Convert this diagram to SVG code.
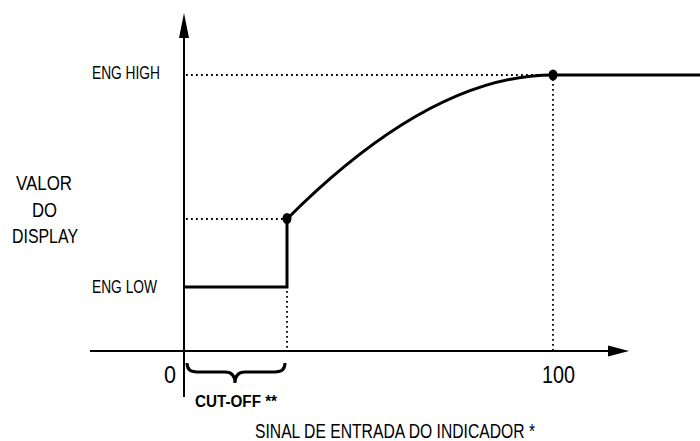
<svg xmlns="http://www.w3.org/2000/svg" width="700" height="441" viewBox="0 0 700 441">
<style>
.t{font-family:"Liberation Sans",Arial,sans-serif;fill:#000}
.axis{stroke:#000;stroke-width:2;fill:none}
.thick{stroke:#000;stroke-width:3;fill:none}
.dot{stroke:#000;stroke-width:1.8;stroke-dasharray:1.8 3.2;fill:none}
</style>
<rect width="700" height="441" fill="#fff"/>
<g id="connectors">
<line class="axis" x1="184" y1="397" x2="184" y2="38"/>
<path d="M179,38 L184,13 L189,38 z" fill="#000"/>
<line class="axis" x1="90" y1="351" x2="608" y2="351"/>
<path d="M608,345.5 L629,351 L608,356.5 z" fill="#000"/>
<line class="dot" x1="186" y1="75" x2="550" y2="75"/>
<line class="dot" x1="553" y1="79" x2="553" y2="350"/>
<line class="dot" x1="186" y1="219" x2="284" y2="219"/>
<line class="dot" x1="287" y1="291" x2="287" y2="350"/>
<path class="thick" d="M185,287 L287,287 L287,219"/>
<path class="thick" d="M287,219 Q431,75 553,75 L700,75"/>
<path class="thick" stroke-width="3.5" d="M187,363 Q187,372 197,372 L225,372 Q235,372 235,383 Q235,372 245,372 L275,372 Q285,372 285,363"/>
</g>
<g id="point-cutoff"><ellipse cx="287" cy="218.5" rx="4.5" ry="5.5" fill="#000"/></g>
<g id="point-high"><ellipse cx="553" cy="75" rx="4.5" ry="5.5" fill="#000"/></g>
<g id="labels">
<text class="t" x="92" y="79" font-size="19" textLength="68" lengthAdjust="spacingAndGlyphs">ENG HIGH</text>
<text class="t" x="92" y="293" font-size="18" textLength="65" lengthAdjust="spacingAndGlyphs">ENG LOW</text>
<text class="t" x="16" y="190" font-size="20" textLength="56" lengthAdjust="spacingAndGlyphs">VALOR</text>
<text class="t" x="32" y="217" font-size="20" textLength="25" lengthAdjust="spacingAndGlyphs">DO</text>
<text class="t" x="12" y="243" font-size="20" textLength="66" lengthAdjust="spacingAndGlyphs">DISPLAY</text>
<text class="t" x="164" y="383" font-size="24" textLength="12" lengthAdjust="spacingAndGlyphs">0</text>
<text class="t" x="542" y="383" font-size="24" textLength="33" lengthAdjust="spacingAndGlyphs">100</text>
<text class="t" x="195" y="407" font-size="16" font-weight="bold" textLength="82" lengthAdjust="spacingAndGlyphs">CUT-OFF **</text>
<text class="t" x="255" y="438" font-size="20" textLength="280" lengthAdjust="spacingAndGlyphs">SINAL DE ENTRADA DO INDICADOR *</text>
</g>
</svg>
